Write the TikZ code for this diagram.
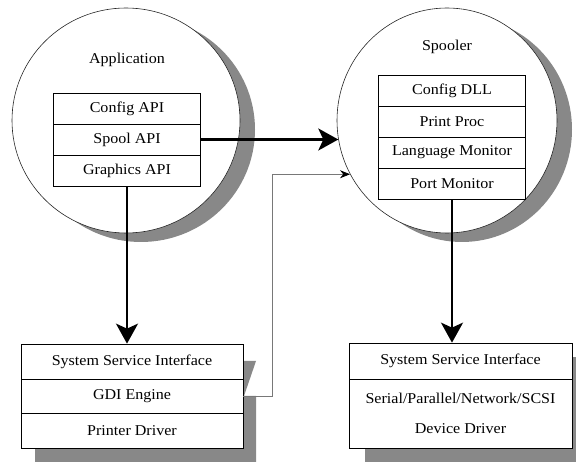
\documentclass[tikz,border=0pt]{standalone}
\usepackage{fontspec}
\setmainfont{Liberation Serif}[FakeStretch=1.07]
\usetikzlibrary{arrows.meta,shapes.geometric,shadows}
\definecolor{shadowgray}{RGB}{136,136,136}
\definecolor{linkgray}{RGB}{120,120,120}
\begin{document}
\begin{tikzpicture}[x=1pt,y=-1pt,
  font=\fontsize{15}{17}\selectfont,
  proc/.style={ellipse, draw=black!85, line width=0.6pt, fill=white, inner sep=0pt,
    drop shadow={shadow xshift=15pt, shadow yshift=-9pt, fill=shadowgray, opacity=1}},
  layer/.style={draw=black, line width=0.7pt, fill=white, inner sep=0pt,
    minimum width=147pt, minimum height=31pt},
  wide/.style={layer, minimum width=222pt},
  bigarrow/.style={line width=2.2pt, -{Stealth[length=20pt, width=22pt, inset=5pt]}},
  thinarrow/.style={draw=linkgray, line width=0.8pt, -{Stealth[length=10pt, width=8pt, color=black]}}
]
\clip (0,0) rectangle (576,462);

% process circles
\node[proc, minimum width=228pt, minimum height=225pt] (app) at (126,120.5) {};
\node[proc, minimum width=220pt, minimum height=225pt] (spooler) at (447,120.5) {};
\node (applbl) at (127,60) {Application};
\node (spllbl) at (447,47) {Spooler};

% application layers
\node[layer] (cfgapi)   at (127,108.5) {Config API};
\node[layer] (spoolapi) at (127,139.5) {Spool API};
\node[layer] (gfxapi)   at (127,170.5) {Graphics API};

% spooler layers
\node[layer] (cfgdll)  at (452,90.5)  {Config DLL};
\node[layer] (prproc)  at (452,121.5) {Print Proc};
\node[layer] (langmon) at (452,152.5) {Language Monitor};
\node[layer] (portmon) at (452,183.5) {Port Monitor};

% shadows of the kernel-mode stacks
\fill[shadowgray] (35,361) -- (256,361) -- (244,396) -- (256,396) -- (256,470) -- (35,470) -- cycle;
\fill[shadowgray] (365,357) rectangle (590,470);

% kernel-mode stack under the application
\node[wide, minimum height=35pt] (sys1)  at (132,361.5) {System Service Interface};
\node[wide, minimum height=34pt] (gdi)   at (132,396)   {GDI Engine};
\node[wide, minimum height=35pt] (prdrv) at (132,430.5) {Printer Driver};

% kernel-mode stack under the spooler
\node[wide, minimum width=223pt, minimum height=36pt] (sys2) at (460.5,361) {System Service Interface};
\node[wide, minimum width=223pt, minimum height=69pt, align=center,
      font=\fontsize{15}{30}\selectfont] (devdrv) at (460.5,413.5)
      {Serial/Parallel/Network/SCSI\\Device Driver};

% calls
\draw[bigarrow] (spoolapi.east) -- (spoolapi.east -| spooler.190);
\draw[bigarrow] (gfxapi.south) -- (gfxapi.south |- sys1.north);
\draw[bigarrow] (portmon.south) -- (portmon.south |- sys2.north);
\draw[thinarrow] (gdi.east) -- ++(29,0) |- (spooler.209);
\end{tikzpicture}
\end{document}
